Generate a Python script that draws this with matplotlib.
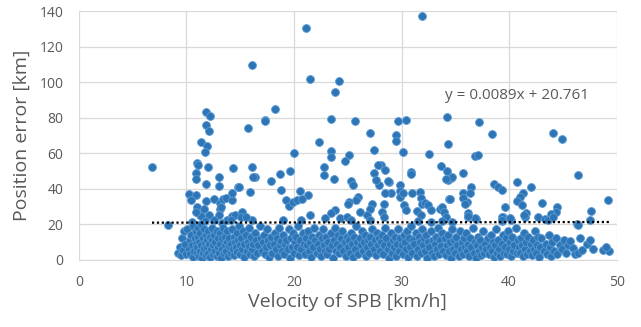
"""
scatter of position error vs velocity of SPB, with linear trendline
"""

import numpy as np
import matplotlib.pyplot as plt

# points above the trendline band
upper_x = [6.8, 8.3, 21.1, 16.1, 31.9, 11.8, 12.2, 11.8, 12.1, 15.7, 21.5, 24.2, 23.8, 18.2,
           17.3, 17.3, 23.4, 25.7, 27.1, 29.5, 29.7, 30.4, 34.2, 22.3, 37.2, 38.4, 44.1, 44.9,
           34.3, 36.8, 37.1, 33.7, 35.7, 34.3, 34.6, 46.4, 40.7, 38.6, 39.0, 39.3, 42.0, 41.3,
           41.0, 35.7, 36.1, 35.7, 35.9, 34.4, 36.5, 36.4, 40.7, 41.2, 43.1, 49.2, 39.6, 44.5,
           44.4, 43.9, 47.6, 41.6, 41.5, 33.6, 47.5, 42.7, 41.4, 40.2, 39.4, 39.3, 46.3, 43.3,
           30.1, 32.6, 28.05, 28.5, 30.9, 30.9, 34.7, 28.8, 29.9, 29.9, 29.9, 28.98, 28.5, 30.1,
           31.7, 31.8, 31.9, 32.2, 32.5, 32.7, 34.5, 28.4, 28.2, 28.4, 30.2, 30.4, 31.4, 31.8,
           33.8, 33.96, 34.1, 36.2, 36.2, 36.9, 29.5, 23.4, 23.4, 25.1, 27.4, 24.7, 20.0, 16.1,
           16.4, 15.9, 34.2, 34.1, 27.8, 27.4, 27.9, 27.6, 28.7, 31.0, 22.8, 22.8, 19.6, 18.7,
           17.9, 23.7, 25.3, 25.5, 18.8, 20.6, 21.3, 19.3, 19.5, 19.9, 20.3, 20.75, 26.0, 25.8,
           25.1, 25.0, 27.3, 27.1, 26.1, 21.5, 23.8, 23.4, 22.9, 24.3, 24.9, 25.3, 26.8, 27.1,
           11.4, 11.9, 11.7, 10.97, 11.1, 10.9, 10.9, 12.0, 14.35, 13.0, 16.2, 11.8, 13.0, 14.8,
           10.2, 10.9, 10.4, 11.8, 12.6, 13.1, 13.4, 13.7, 14.2, 11.0, 11.1, 11.3, 11.6, 11.4,
           12.1, 13.1, 13.0, 14.2, 14.5, 15.2, 15.1, 13.8, 14.1, 14.2, 16.1, 15.5, 10.9, 12.6,
           11.7, 10.5, 13.3, 13.2, 14.9, 19.0, 20.7, 31.5, 32.7, 33.8, 34.7, 39.3, 39.3, 40.1,
           43.6, 44.1, 36.8, 36.2, 46.4]
upper_y = [52, 19.4, 130.4, 109.6, 137.3, 83.3, 81, 75.6, 72.4, 73.9, 101.7, 100.6, 94.4, 85,
           78.6, 77.9, 79.2, 77.9, 71.4, 70.1, 78, 78.6, 80.3, 66.5, 77.6, 70.5, 71.4, 68.1,
           64.9, 58.3, 58.7, 53, 48.9, 44.8, 45.9, 47.6, 43.5, 42.5, 40.7, 39.2, 41, 37.3,
           35.4, 37.3, 32.6, 34.5, 31.3, 33.9, 40.7, 37.3, 33, 30.7, 31.7, 33.7, 29.4, 29.4,
           26.6, 25.6, 27.5, 26, 23.8, 28.8, 22.6, 23.9, 24.9, 22.6, 24.1, 22.0, 20.0, 23,
           60.4, 59.4, 53.2, 50.4, 49.5, 48.5, 46.3, 43.8, 42, 38.8, 35.4, 37.3, 37.3, 37.6,
           38.2, 35.0, 31.6, 31.9, 30.7, 28.2, 33.9, 31.6, 27, 24.1, 30.7, 28.0, 27.4, 25.1,
           29.4, 27, 24.1, 26, 24.1, 23, 66.8, 61.3, 57.6, 59.2, 62, 55.5, 59.8, 52.3,
           46.6, 38.2, 49.9, 45.4, 53.2, 48.9, 42.0, 45.1, 44.4, 37.6, 52.3, 47.6, 50.0, 48.2,
           44.2, 45.2, 44.2, 42.3, 39.2, 38.8, 36.3, 33.5, 30.1, 32.5, 33.5, 34.4, 35.3, 33.5,
           32.5, 31.2, 31.6, 28.8, 26.6, 25.4, 27.9, 26.0, 23.6, 23.2, 24.1, 22.6, 25.1, 22.2,
           66.4, 64.1, 60.7, 54.2, 53.5, 48.9, 45.7, 52.3, 51.9, 46.8, 46.7, 42.5, 41.6, 41.0,
           36.8, 36.3, 33.5, 33.2, 33.9, 32.0, 33.9, 34.5, 33.5, 29.4, 26.4, 25.1, 28.4, 24.5,
           25.1, 28.8, 25.1, 24.5, 25.1, 27.0, 24.1, 22.6, 22.2, 37.6, 22.3, 24, 27, 22.5,
           21.5, 21, 20.8, 29.8, 40.7, 22.6, 22.2, 22.0, 21.2, 22.0, 21.2, 24.1, 22.6, 23.2,
           22.6, 23.8, 23.2, 24.5, 19.4]

# dense band of points below ~20 km
lower_x = [9.2, 9.4, 9.5, 9.6, 9.7, 9.8, 9.9, 10.0,
           10.1, 10.2, 10.3, 10.35, 10.45, 10.5, 10.6, 10.65, 10.7, 10.8, 10.85, 10.9, 10.95,
           11.0, 11.05, 11.1, 11.15, 11.2, 11.25, 11.3, 11.35, 11.4, 11.45, 11.5, 11.55, 11.6,
           11.65, 11.7, 11.8, 11.85, 11.9, 11.95,
           12.0, 12.05, 12.1, 12.15, 12.2, 12.3, 12.35, 12.4, 12.45, 12.5, 12.6, 12.65, 12.7,
           12.8, 12.85, 12.9, 12.95,
           13.0, 13.1, 13.15, 13.2, 13.3, 13.35, 13.4, 13.5, 13.55, 13.6, 13.7, 13.75, 13.8,
           13.9, 13.95,
           14.0, 14.1, 14.15, 14.2, 14.3, 14.4, 14.45, 14.5, 14.6, 14.7, 14.75, 14.8, 14.9, 14.95,
           15.0, 15.1, 15.2, 15.3, 15.35, 15.4, 15.5, 15.6, 15.7, 15.8, 15.85, 15.9,
           16.0, 16.1, 16.2, 16.3, 16.4, 16.5, 16.6, 16.7, 16.8, 16.9,
           17.0, 17.1, 17.2, 17.3, 17.4, 17.5, 17.6, 17.7, 17.8, 17.9,
           18.0, 18.1, 18.2, 18.3, 18.4, 18.5, 18.6, 18.7, 18.8, 18.9,
           19.0, 19.1, 19.2, 19.3, 19.4, 19.5, 19.6, 19.7, 19.8, 19.9,
           20.0, 20.1, 20.2, 20.3, 20.4, 20.5, 20.6, 20.7, 20.8, 20.9,
           21.0, 21.1, 21.2, 21.3, 21.4, 21.5, 21.6, 21.7, 21.8, 21.9,
           22.0, 22.1, 22.2, 22.3, 22.4, 22.5, 22.6, 22.7, 22.8, 22.9,
           23.0, 23.1, 23.2, 23.3, 23.4, 23.5, 23.6, 23.7, 23.8, 23.9,
           24.0, 24.1, 24.2, 24.3, 24.4, 24.5, 24.6, 24.7, 24.8, 24.9,
           25.0, 25.1, 25.2, 25.3, 25.4, 25.5, 25.6, 25.7, 25.8, 25.9,
           26.0, 26.1, 26.2, 26.3, 26.4, 26.5, 26.6, 26.7, 26.8, 26.9,
           27.0, 27.1, 27.2, 27.3, 27.4, 27.5, 27.6, 27.7, 27.8, 27.9,
           28.0, 28.1, 28.2, 28.3, 28.4, 28.5, 28.6, 28.7, 28.8, 28.9,
           29.0, 29.1, 29.2, 29.3, 29.4, 29.5, 29.6, 29.7, 29.8, 29.9,
           30.0, 30.1, 30.2, 30.3, 30.4, 30.5, 30.6, 30.7, 30.8, 30.9,
           31.0, 31.1, 31.2, 31.3, 31.4, 31.5, 31.6, 31.7, 31.8, 31.9,
           32.0, 32.1, 32.2, 32.3, 32.4, 32.5, 32.6, 32.7, 32.8, 32.9,
           33.0, 33.1, 33.2, 33.3, 33.4, 33.5, 33.6, 33.7, 33.8, 33.9,
           34.0, 34.1, 34.2, 34.3, 34.4, 34.5, 34.6, 34.7, 34.8, 34.9,
           35.0, 35.1, 35.2, 35.3, 35.4, 35.5, 35.6, 35.7, 35.8, 35.9,
           36.0, 36.1, 36.2, 36.3, 36.4, 36.5, 36.6, 36.7, 36.8, 36.9,
           37.0, 37.1, 37.2, 37.3, 37.4, 37.5, 37.6, 37.7, 37.8, 37.9,
           38.0, 38.1, 38.2, 38.3, 38.4, 38.5, 38.6, 38.7, 38.8, 38.9,
           39.0, 39.1, 39.2, 39.3, 39.4, 39.5, 39.6, 39.7, 39.8, 39.9,
           40.0, 40.1, 40.2, 40.3, 40.4, 40.5, 40.6, 40.7, 40.8, 40.9,
           41.0, 41.1, 41.2, 41.3, 41.4, 41.5, 41.6, 41.7, 41.8, 41.9,
           42.0, 42.1, 42.2, 42.3, 42.4, 42.5, 42.6, 42.7, 42.8, 42.9,
           43.0, 43.2, 43.4, 43.5, 43.7, 43.8, 43.9,
           44.0, 44.2, 44.4, 44.5, 44.7, 44.9,
           45.1, 45.3, 45.5, 45.7, 45.9,
           46.1, 46.4, 46.6, 46.8,
           47.2, 47.5, 47.8,
           48.7, 49.3, 49.0]
lower_y = [4, 7, 2.5, 12, 5.5, 16, 9, 3,
           17, 6, 11, 3, 14, 8, 19, 1.5, 5, 12, 16, 9, 3.5,
           7, 13, 18, 2, 10, 5, 15, 8, 20, 1, 12, 4, 17,
           6.5, 9.5, 14, 2.5, 11, 7,
           16, 4, 9, 13, 1.5, 6, 18, 11, 3, 8, 14, 5, 10,
           2, 16, 7, 12,
           4, 9, 15, 1, 6, 12, 18, 3.5, 8, 13, 5, 10, 16,
           2, 7.5,
           12, 4, 9, 17, 6, 13, 2.5, 10, 7, 15, 4.5, 11, 19, 8,
           3, 12, 6, 16, 9, 1.5, 14, 5, 10, 7.5, 18, 3,
           13, 6, 9, 2, 15, 11, 4, 8, 19, 12,
           5, 10, 14, 3, 7, 17, 11, 1.5, 8, 13,
           4, 9, 15, 6, 12, 2, 18, 8, 10.5, 5,
           14, 3, 9, 11, 6, 17, 1, 12, 7, 15,
           4, 10, 13, 7, 19, 2.5, 11, 6, 15, 9,
           3, 12, 8, 16, 5, 10, 1.5, 13, 7, 18,
           11, 4, 9, 14, 6, 2, 12, 17, 8, 5,
           13, 3, 10, 6, 15, 8, 1, 11, 18, 5,
           9, 14, 3.5, 7, 12, 16, 5, 10, 2, 13,
           7, 11, 4, 15, 9, 1.5, 13, 6, 19, 10,
           3, 12, 8, 16, 5, 10, 14, 2, 7, 11,
           4, 13, 9, 17, 6, 11, 2.5, 15, 8, 12,
           5, 10, 14, 3, 8, 18, 12, 6, 1, 9,
           15, 4, 11, 7, 13, 2, 9, 17, 5, 12,
           8, 3, 14, 10, 6, 16, 1.5, 12, 7, 19,
           4, 11, 9, 15, 2, 6, 13, 10, 3.5, 17,
           8, 12, 5, 14, 1, 10, 7, 16, 4, 11,
           2, 9, 13, 6, 18, 3, 11, 7.5, 15, 5,
           12, 2.5, 8, 14, 5, 10, 1, 17, 6, 11,
           4, 13, 8, 2, 16, 6, 10, 3, 12, 7,
           15, 5, 9, 2, 12, 7, 18, 4, 10, 1,
           8, 13, 5, 11, 2.5, 7, 16, 4, 9, 6,
           12, 3, 7, 14, 5, 10, 1.5, 8, 17, 4,
           11, 6, 2, 9, 14, 4, 7, 12, 3, 16,
           6, 10, 2, 13, 5, 8, 18, 3.5, 11, 7,
           4, 12, 8, 2, 15, 6, 10, 3, 13, 5,
           9, 2.5, 11, 6, 16, 4, 8, 13, 1.5, 7,
           12, 5, 9, 3, 14, 7, 2,
           10, 5, 12, 3, 8, 6,
           11, 4, 8, 10.5, 6.8,
           3, 3.9, 12, 5.5,
           9, 11, 6.1,
           5.4, 4.8, 7]

# trendline from the chart label
slope = 0.0089
intercept = 20.761

x = np.array(upper_x + lower_x)
y = np.array(upper_y + lower_y)

plt.rcParams['font.family'] = ['Open Sans', 'DejaVu Sans']
gray = '#595959'

fig = plt.figure(figsize=(6.41, 3.27), dpi=100)
ax = fig.add_axes([0.123, 0.206, 0.839, 0.76])

ax.scatter(x, y, s=32, color='#2E75B6', edgecolors='#5B9BD5', linewidths=0.6, zorder=3)

x_line = np.array([x.min(), x.max()])
ax.plot(x_line, slope * x_line + intercept, color='black', linestyle=(0, (1, 1.2)),
        linewidth=1.6, zorder=4)

ax.text(34.0, 92.7, 'y = 0.0089x + 20.761', fontsize=11, color=gray, va='center', ha='left')

ax.set_xlim(0, 50)
ax.set_ylim(0, 140)
ax.set_xticks(range(0, 51, 10))
ax.set_yticks(range(0, 141, 20))
ax.grid(True, color='#D9D9D9', linewidth=0.9, zorder=0)
ax.set_axisbelow(True)
for side in ['top', 'right', 'left']:
    ax.spines[side].set_visible(False)
ax.spines['bottom'].set_color('#D9D9D9')
ax.tick_params(length=0, labelsize=10, colors=gray)
ax.tick_params(axis='x', pad=11)
ax.tick_params(axis='y', pad=11)

ax.set_xlabel('Velocity of SPB [km/h]', fontsize=14, color=gray, labelpad=2)
ax.set_ylabel('Position error [km]', fontsize=14, color=gray, labelpad=6)

plt.savefig('out.png', dpi=100)
